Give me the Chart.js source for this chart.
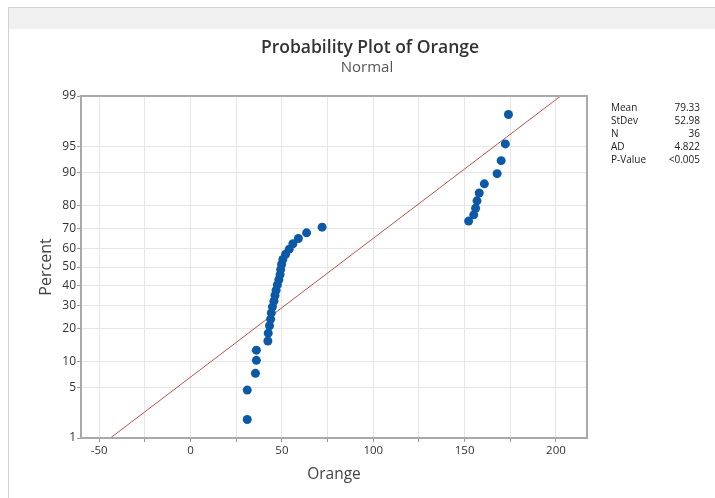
<!DOCTYPE html>
<html>
<head>
<meta charset="utf-8">
<script src="https://cdn.jsdelivr.net/npm/chart.js@4.4.1/dist/chart.umd.min.js"></script>
<style>
  html, body { margin: 0; padding: 0; background: #fff; overflow: hidden; }
  #frame { position: absolute; left: 8px; top: 7px; width: 720px; height: 500px; border-top: 1px solid #d2d2d2; border-left: 1px solid #d2d2d2; }
  #band { height: 21px; background: #f0f0f0; }
  #wrap { position: absolute; left: 0; top: 0; width: 715px; height: 498px; }
</style>
</head>
<body>
<div id="frame"><div id="band"></div></div>
<div id="wrap"><canvas id="probChart" width="715" height="498"></canvas></div>
<script>
// sorted Orange values
const orangeValues = [31, 31, 35.5, 36, 36, 42.3, 42.5, 43.2, 43.8, 44.2, 44.8, 45.6,
    46.2, 46.8, 47.5, 48.3, 49, 49.3, 49.8, 50.5, 52, 54, 56, 59, 63.5, 72,
    152.2, 155, 156, 156.8, 158, 160.8, 167.8, 170, 172.3, 174];
// plotted percent for each point (median ranks)
const plotPercents = [1.9, 4.7, 7.4, 10.2, 12.9, 15.7, 18.4, 21.2, 23.9, 26.6, 29.4, 32.1,
    34.9, 37.6, 40.4, 43.1, 45.9, 48.6, 51.4, 54.1, 56.9, 59.6, 62.4, 65.1, 67.9, 70.6,
    73.4, 76.1, 78.8, 81.6, 84.3, 87.1, 89.8, 92.6, 95.3, 98.1];
const percentTicks = [1, 5, 10, 20, 30, 40, 50, 60, 70, 80, 90, 95, 99];
const xTicks = [-50, -25, 0, 25, 50, 75, 100, 125, 150, 175, 200];
const statLabels = ['Mean', 'StDev', 'N', 'AD', 'P-Value'];
const statValues = ['79.33', '52.98', '36', '4.822', '<0.005'];
const fitMean = 79.33;
const fitStDev = 52.98;

// inverse normal cdf (Acklam)
function probit(p) {
    const a = [-3.969683028665376e+01, 2.209460984245205e+02, -2.759285104469687e+02, 1.383577518672690e+02, -3.066479806614716e+01, 2.506628277459239e+00];
    const b = [-5.447609879822406e+01, 1.615858368580409e+02, -1.556989798598866e+02, 6.680131188771972e+01, -1.328068155288572e+01];
    const c = [-7.784894002430293e-03, -3.223964580411365e-01, -2.400758277161838e+00, -2.549732539343734e+00, 4.374664141464968e+00, 2.938163982698783e+00];
    const d = [7.784695709041462e-03, 3.224671290700398e-01, 2.445134137142996e+00, 3.754408661907416e+00];
    const pLow = 0.02425;
    let q, r;
    if (p < pLow) {
        q = Math.sqrt(-2 * Math.log(p));
        return (((((c[0]*q+c[1])*q+c[2])*q+c[3])*q+c[4])*q+c[5]) / ((((d[0]*q+d[1])*q+d[2])*q+d[3])*q+1);
    }
    if (p <= 1 - pLow) {
        q = p - 0.5; r = q * q;
        return (((((a[0]*r+a[1])*r+a[2])*r+a[3])*r+a[4])*r+a[5])*q / (((((b[0]*r+b[1])*r+b[2])*r+b[3])*r+b[4])*r+1);
    }
    q = Math.sqrt(-2 * Math.log(1 - p));
    return -(((((c[0]*q+c[1])*q+c[2])*q+c[3])*q+c[4])*q+c[5]) / ((((d[0]*q+d[1])*q+d[2])*q+d[3])*q+1);
}

const zLow = probit(0.01);
const zHigh = probit(0.99);

const points = orangeValues.map((v, i) => ({ x: v, y: probit(plotPercents[i] / 100) }));
const fitLine = [
    { x: fitMean + zLow * fitStDev, y: zLow },
    { x: fitMean + zHigh * fitStDev, y: zHigh }
];

Chart.defaults.font.family = '"Open Sans", "Noto Sans", sans-serif';
Chart.defaults.color = '#333';

const decor = {
    id: 'decor',
    afterDraw(chart) {
        const ctx = chart.ctx;
        const area = chart.chartArea;
        ctx.save();
        ctx.strokeStyle = '#a9a9a9';
        ctx.lineWidth = 2;
        ctx.strokeRect(area.left, area.top, area.right - area.left, area.bottom - area.top);

        ctx.textAlign = 'center';
        ctx.textBaseline = 'middle';
        ctx.fillStyle = '#333';
        ctx.font = '600 17.5px "Open Sans", sans-serif';
        ctx.fillText('Probability Plot of Orange', 370, 48);
        ctx.fillStyle = '#555';
        ctx.font = '15px "Open Sans", sans-serif';
        ctx.fillText('Normal', 367, 68);

        ctx.font = '10px "Open Sans", sans-serif';
        ctx.fillStyle = '#222';
        statLabels.forEach((lab, i) => {
            const y = 108 + i * 13;
            ctx.textAlign = 'left';
            ctx.fillText(lab, 611, y);
            ctx.textAlign = 'right';
            ctx.fillText(statValues[i], 700, y);
        });
        ctx.restore();
    }
};

new Chart(document.getElementById('probChart'), {
    type: 'scatter',
    data: {
        datasets: [{
            label: 'Orange',
            data: points,
            backgroundColor: '#0c5aa6',
            borderWidth: 0,
            pointRadius: 4.5
        }, {
            type: 'line',
            label: 'Fit',
            data: fitLine,
            borderColor: '#b9544c',
            borderWidth: 1,
            pointRadius: 0,
            fill: false
        }]
    },
    options: {
        responsive: false,
        animation: false,
        layout: { padding: { left: 0, right: 128, top: 96, bottom: 0 } },
        plugins: {
            legend: { display: false },
            tooltip: { enabled: false }
        },
        scales: {
            x: {
                type: 'linear',
                min: -60,
                max: 217,
                afterBuildTicks: axis => { axis.ticks = xTicks.map(v => ({ value: v })); },
                afterFit: s => { s.height = 60; },
                ticks: {
                    callback: v => (v % 50 === 0 ? v : ''),
                    font: { size: 11.5 },
                    padding: 2,
                    maxRotation: 0,
                    autoSkip: false
                },
                grid: { color: '#e6e6e6', tickLength: 4, tickColor: '#999' },
                border: { display: false },
                title: {
                    display: true,
                    text: 'Orange',
                    font: { size: 15.5 },
                    color: '#444',
                    padding: { top: 0, bottom: 14 }
                }
            },
            y: {
                type: 'linear',
                min: zLow,
                max: zHigh,
                afterBuildTicks: axis => { axis.ticks = percentTicks.map(p => ({ value: probit(p / 100) })); },
                afterFit: s => { s.width = 81; },
                ticks: {
                    callback: (v, i) => percentTicks[i],
                    font: { size: 12 },
                    padding: 1,
                    autoSkip: false
                },
                grid: { color: '#e6e6e6', tickLength: 4, tickColor: '#999' },
                border: { display: false },
                title: {
                    display: true,
                    text: 'Percent',
                    font: { size: 16 },
                    color: '#444',
                    padding: { top: 37, bottom: 0 }
                }
            }
        }
    },
    plugins: [decor]
});
</script>
</body>
</html>
